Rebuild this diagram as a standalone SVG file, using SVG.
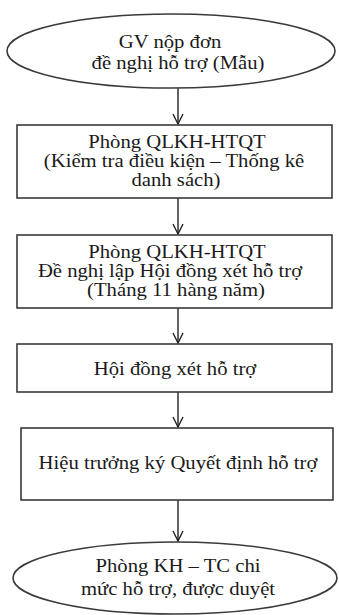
<svg xmlns="http://www.w3.org/2000/svg" width="339" height="615" viewBox="0 0 339 615">
<style>
.shape{fill:#fff;stroke:#3a3a3a;stroke-width:1.6}
.t{font-family:"Liberation Serif","Times New Roman",serif;font-size:18px;fill:#1a1a1a;text-anchor:middle}
.c{stroke:#222;stroke-width:1.4;fill:none}
</style>
<defs>
<marker id="ah" viewBox="0 0 12 12" refX="11" refY="6" markerWidth="12" markerHeight="12" markerUnits="userSpaceOnUse" orient="auto">
<path d="M1,1 L11,6 L1,11" fill="none" stroke="#222" stroke-width="1.4"/>
</marker>
</defs>
<rect width="339" height="615" fill="#fff"/>
<g id="connectors">
<line class="c" x1="178" y1="88" x2="178" y2="124" marker-end="url(#ah)"/>
<line class="c" x1="178" y1="198" x2="178" y2="234" marker-end="url(#ah)"/>
<line class="c" x1="178" y1="308" x2="178" y2="343" marker-end="url(#ah)"/>
<line class="c" x1="178" y1="392" x2="178" y2="427" marker-end="url(#ah)"/>
<line class="c" x1="178" y1="500" x2="178" y2="541" marker-end="url(#ah)"/>
</g>
<g id="n1">
<ellipse class="shape" cx="171" cy="51" rx="164" ry="37"/>
<text class="t" transform="matrix(1.15 0 0 1 170 48)">GV nộp đơn</text>
<text class="t" transform="matrix(1.15 0 0 1 178 69)">đề nghị hỗ trợ (Mẫu)</text>
</g>
<g id="n2">
<rect class="shape" x="17" y="125" width="315" height="73"/>
<text class="t" transform="matrix(1.15 0 0 1 177 148)">Phòng QLKH-HTQT</text>
<text class="t" transform="matrix(1.15 0 0 1 174 167)">(Kiểm tra điều kiện – Thống kê</text>
<text class="t" transform="matrix(1.15 0 0 1 176 186)">danh sách)</text>
</g>
<g id="n3">
<rect class="shape" x="17" y="235" width="315" height="73"/>
<text class="t" transform="matrix(1.15 0 0 1 177 258)">Phòng QLKH-HTQT</text>
<text class="t" transform="matrix(1.15 0 0 1 170 277)">Đề nghị lập Hội đồng xét hỗ trợ</text>
<text class="t" transform="matrix(1.15 0 0 1 176 296)">(Tháng 11 hàng năm)</text>
</g>
<g id="n4">
<rect class="shape" x="17" y="344" width="315" height="48"/>
<text class="t" transform="matrix(1.15 0 0 1 175 375)">Hội đồng xét hỗ trợ</text>
</g>
<g id="n5">
<rect class="shape" x="21" y="428" width="312" height="72" stroke="#111"/>
<text class="t" transform="matrix(1.15 0 0 1 178 469)">Hiệu trưởng ký Quyết định hỗ trợ</text>
</g>
<g id="n6">
<ellipse class="shape" cx="175" cy="578" rx="162" ry="36"/>
<text class="t" transform="matrix(1.15 0 0 1 178 572)">Phòng KH – TC chi</text>
<text class="t" transform="matrix(1.15 0 0 1 178 595)">mức hỗ trợ, được duyệt</text>
</g>
</svg>
